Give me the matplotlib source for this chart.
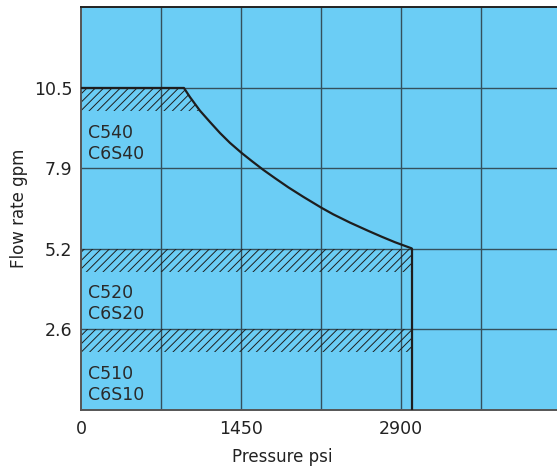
import numpy as np
import matplotlib
matplotlib.use("Agg")
import matplotlib.pyplot as plt
from matplotlib.ticker import FixedLocator

# Limit curve (psi, gpm)
pressure = [0, 933, 988, 1078, 1169, 1260, 1350, 1456, 1547, 1652, 1758,
            1879, 2015, 2075, 2181, 2286, 2438, 2604, 2725, 2846, 2997,
            3000, 3000]
flow = [10.5, 10.5, 10.20, 9.76, 9.39, 9.03, 8.71, 8.38, 8.12, 7.83, 7.56,
        7.26, 6.95, 6.82, 6.59, 6.38, 6.11, 5.84, 5.65, 5.47, 5.27,
        5.25, 0.0]

# Hatched bands (bottom, top) in gpm
bands = [(9.75, 10.5), (4.5, 5.25), (1.875, 2.625)]

# Model labels and the flow level they sit at
model_labels = ["C540\nC6S40", "C520\nC6S20", "C510\nC6S10"]
label_flow = [8.7, 3.46, 0.82]

x_ticks = [0, 1450, 2900]
y_ticks = [2.625, 5.25, 7.875, 10.5]
y_tick_labels = ["2.6", "5.2", "7.9", "10.5"]

grid_x = [725, 1450, 2175, 2900, 3625]
grid_y = [2.625, 5.25, 7.875, 10.5]

BG = "#6bcdf5"
GRID = "#34505c"

plt.rcParams["font.family"] = ["DejaVu Sans"]
plt.rcParams["hatch.linewidth"] = 0.7

fig = plt.figure(figsize=(5.57, 4.71), dpi=100)
ax = fig.add_axes([81 / 557, 61 / 471, 476 / 557, 403 / 471])
ax.set_facecolor(BG)

ax.set_xlim(0, 4314)
ax.set_ylim(0, 13.14)

# grid
for gx in grid_x:
    ax.axvline(gx, color=GRID, linewidth=1.0, zorder=1)
for gy in grid_y:
    ax.axhline(gy, color=GRID, linewidth=1.0, zorder=1)

# hatched bands clipped by the limit curve
px = np.array(pressure[:-1], dtype=float)
py = np.array(flow[:-1], dtype=float)
for lo, hi in bands:
    upper = np.minimum(py, hi)
    ax.fill_between(px, lo, upper, where=upper > lo, interpolate=True,
                    facecolor="none", edgecolor="#1e1e1e", hatch="////",
                    linewidth=0, zorder=2)

ax.plot(pressure, flow, color="#1e1e1e", linewidth=1.6, zorder=3)

for text, fy in zip(model_labels, label_flow):
    ax.text(63, fy, text, fontsize=12.5, color="#2a2a2a", ha="left",
            va="center", linespacing=1.2, zorder=4)

ax.xaxis.set_major_locator(FixedLocator(x_ticks))
ax.set_xticklabels([str(v) for v in x_ticks])
ax.yaxis.set_major_locator(FixedLocator(y_ticks))
ax.set_yticklabels(y_tick_labels)
ax.tick_params(which="both", length=0, labelsize=12.5, colors="#222222")
ax.tick_params(axis="x", pad=7)
ax.tick_params(axis="y", pad=6)

ax.set_xlabel("Pressure psi", fontsize=12, color="#222222")
ax.set_ylabel("Flow rate gpm", fontsize=12, color="#222222")
ax.xaxis.set_label_coords(0.422, -0.095)
ax.yaxis.set_label_coords(-0.112, 0.5)

ax.spines["right"].set_visible(False)
ax.spines["top"].set_color("#222222")
ax.spines["top"].set_linewidth(1.4)
for side in ("left", "bottom"):
    ax.spines[side].set_color("#555555")
    ax.spines[side].set_linewidth(1.4)

fig.savefig("out.png", dpi=100)
